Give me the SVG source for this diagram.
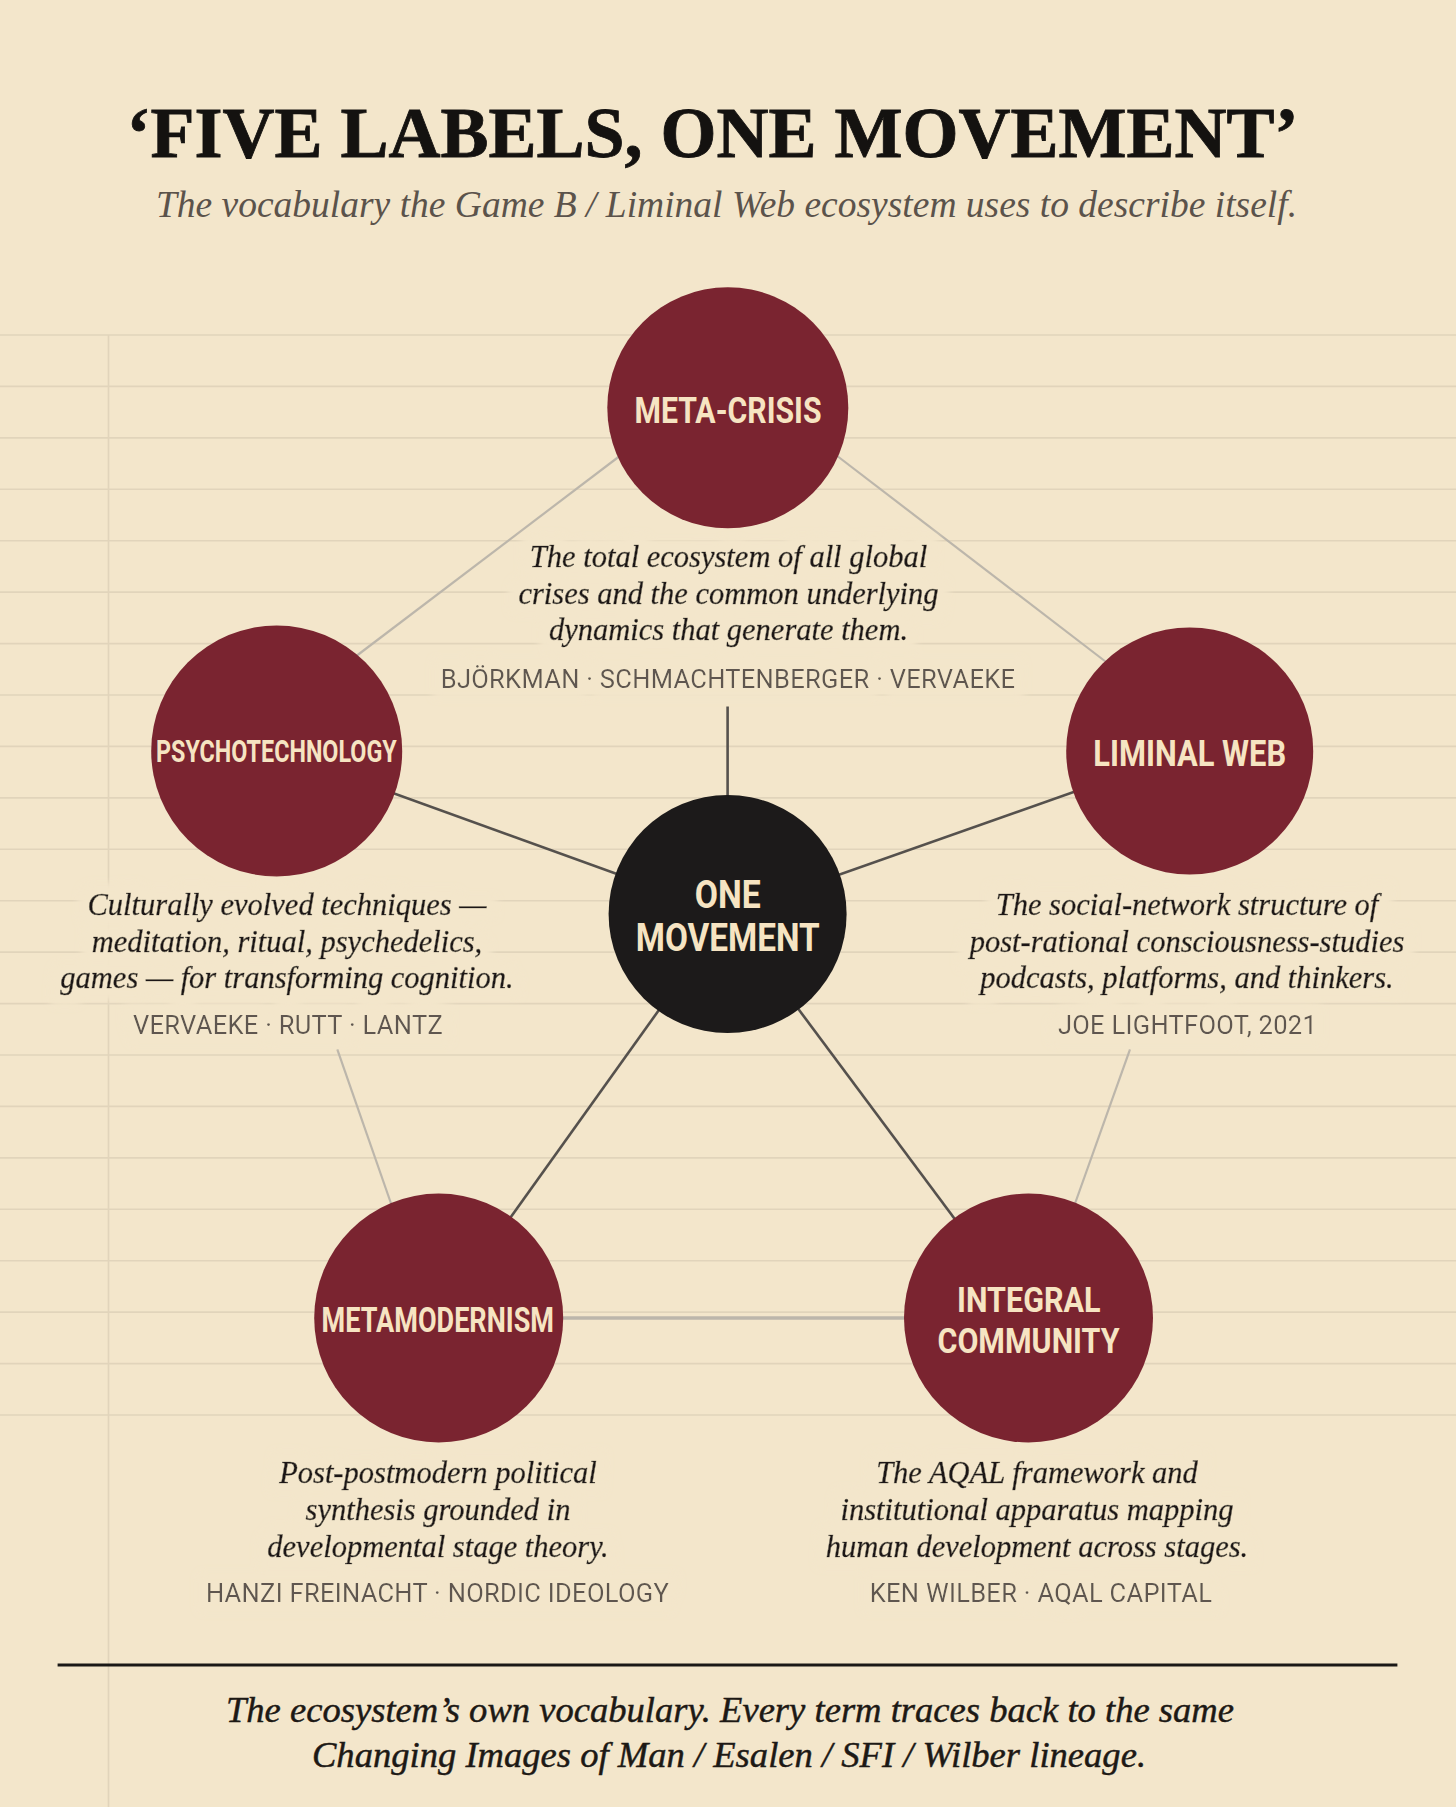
<svg xmlns="http://www.w3.org/2000/svg" width="1456" height="1807" viewBox="0 0 1456 1807">
<style>
.bg{fill:#f3e6cb}
.rule{stroke:#e1d4bb;stroke-width:1.6}
.dark{stroke:#55514d;stroke-width:2.6;fill:none}
.light{stroke:#bcb6ab;stroke-width:2.2;fill:none}
.node{fill:#7a2430}
.core{fill:#1c1a1a}
.lbl{font-family:Roboto,"Liberation Sans",sans-serif;font-weight:700;fill:#f6e4c2;text-anchor:middle}
.desc{font-family:"Liberation Serif",serif;font-style:italic;font-size:30.5px;fill:#1d1915;stroke:#1d1915;stroke-width:0.55px;text-anchor:middle}
.who{font-family:Roboto,"Liberation Sans",sans-serif;font-size:25.5px;fill:#5e5750;text-anchor:middle;letter-spacing:0.3px}
.title{font-family:"Liberation Serif",serif;font-weight:700;font-size:72px;fill:#141210;stroke:#141210;stroke-width:0.8px;text-anchor:middle}
.sub{font-family:"Liberation Serif",serif;font-style:italic;font-size:37.5px;fill:#5b534b;text-anchor:middle}
.foot{font-family:"Liberation Serif",serif;font-style:italic;font-size:36.6px;fill:#1d1915;stroke:#1d1915;stroke-width:0.45px;text-anchor:middle}
</style>
<defs>
<filter id="halo" x="-20%" y="-40%" width="140%" height="180%">
<feMorphology in="SourceAlpha" operator="dilate" radius="9" result="d"/>
<feGaussianBlur in="d" stdDeviation="4" result="b"/>
<feFlood flood-color="#f3e6cb"/>
<feComposite in2="b" operator="in" result="g"/>
<feMerge><feMergeNode in="g"/><feMergeNode in="g"/><feMergeNode in="SourceGraphic"/></feMerge>
</filter>
</defs>
<rect class="bg" x="0" y="0" width="1456" height="1807"/>
<g id="paper-lines">
<line class="rule" x1="0" x2="1456" y1="335" y2="335"/>
<line class="rule" x1="0" x2="1456" y1="386.4" y2="386.4"/>
<line class="rule" x1="0" x2="1456" y1="437.9" y2="437.9"/>
<line class="rule" x1="0" x2="1456" y1="489.3" y2="489.3"/>
<line class="rule" x1="0" x2="1456" y1="540.7" y2="540.7"/>
<line class="rule" x1="0" x2="1456" y1="592.1" y2="592.1"/>
<line class="rule" x1="0" x2="1456" y1="643.6" y2="643.6"/>
<line class="rule" x1="0" x2="1456" y1="695" y2="695"/>
<line class="rule" x1="0" x2="1456" y1="746.4" y2="746.4"/>
<line class="rule" x1="0" x2="1456" y1="797.9" y2="797.9"/>
<line class="rule" x1="0" x2="1456" y1="849.3" y2="849.3"/>
<line class="rule" x1="0" x2="1456" y1="900.7" y2="900.7"/>
<line class="rule" x1="0" x2="1456" y1="952.1" y2="952.1"/>
<line class="rule" x1="0" x2="1456" y1="1003.6" y2="1003.6"/>
<line class="rule" x1="0" x2="1456" y1="1055" y2="1055"/>
<line class="rule" x1="0" x2="1456" y1="1106.4" y2="1106.4"/>
<line class="rule" x1="0" x2="1456" y1="1157.9" y2="1157.9"/>
<line class="rule" x1="0" x2="1456" y1="1209.3" y2="1209.3"/>
<line class="rule" x1="0" x2="1456" y1="1260.7" y2="1260.7"/>
<line class="rule" x1="0" x2="1456" y1="1312.1" y2="1312.1"/>
<line class="rule" x1="0" x2="1456" y1="1363.6" y2="1363.6"/>
<line class="rule" x1="0" x2="1456" y1="1415" y2="1415"/>
<line class="rule" x1="108.5" x2="108.5" y1="335" y2="1807"/>
</g>
<g id="header">
<text class="title" x="712.5" y="157">‘FIVE LABELS, ONE MOVEMENT’</text>
<text class="sub" x="726.5" y="217">The vocabulary the Game B / Liminal Web ecosystem uses to describe itself.</text>
</g>
<g id="connectors">
<line class="light" x1="625" y1="452" x2="355" y2="657"/>
<line class="light" x1="832" y1="452" x2="1110" y2="665"/>
<line class="light" x1="337.3" y1="1049.3" x2="394" y2="1212"/>
<line class="light" x1="1130" y1="1049.3" x2="1072" y2="1212"/>
<line class="light" x1="540" y1="1318" x2="930" y2="1318" style="stroke-width:3.5"/>
<line class="dark" x1="727.6" y1="706.5" x2="727.6" y2="914"/>
<line class="dark" x1="727.6" y1="914" x2="276.7" y2="751"/>
<line class="dark" x1="727.6" y1="914" x2="1189.7" y2="751"/>
<line class="dark" x1="727.6" y1="914" x2="438.7" y2="1318"/>
<line class="dark" x1="727.6" y1="914" x2="1028.5" y2="1318"/>
</g>
<g id="node-meta-crisis">
<circle class="node" cx="727.8" cy="407.8" r="120.5"/>
<text class="lbl" x="728" y="422.7" font-size="37.5" textLength="187" lengthAdjust="spacingAndGlyphs">META-CRISIS</text>
<g filter="url(#halo)">
<text class="desc" x="728.5" y="567">The total ecosystem of all global</text>
<text class="desc" x="728.5" y="603.5">crises and the common underlying</text>
<text class="desc" x="728.5" y="640">dynamics that generate them.</text>
<text class="who" x="728" y="688">BJÖRKMAN · SCHMACHTENBERGER · VERVAEKE</text>
</g>
</g>
<g id="node-psychotechnology">
<circle class="node" cx="276.7" cy="751" r="125.5"/>
<text class="lbl" x="276.4" y="761.7" font-size="30.5" textLength="240.7" lengthAdjust="spacingAndGlyphs">PSYCHOTECHNOLOGY</text>
<g filter="url(#halo)">
<text class="desc" x="287" y="915">Culturally evolved techniques —</text>
<text class="desc" x="287" y="951.7">meditation, ritual, psychedelics,</text>
<text class="desc" x="287" y="988.3">games — for transforming cognition.</text>
<text class="who" x="288" y="1034">VERVAEKE · RUTT · LANTZ</text>
</g>
</g>
<g id="node-liminal-web">
<circle class="node" cx="1189.7" cy="751" r="123.5"/>
<text class="lbl" x="1189.7" y="765.7" font-size="37" textLength="192.7" lengthAdjust="spacingAndGlyphs">LIMINAL WEB</text>
<g filter="url(#halo)">
<text class="desc" x="1187" y="915">The social-network structure of</text>
<text class="desc" x="1187" y="951.7">post-rational consciousness-studies</text>
<text class="desc" x="1187" y="988.3">podcasts, platforms, and thinkers.</text>
<text class="who" x="1187.5" y="1034">JOE LIGHTFOOT, 2021</text>
</g>
</g>
<g id="node-one-movement">
<circle class="core" cx="727.6" cy="914" r="119"/>
<text class="lbl" x="727.7" y="908" font-size="38.5" textLength="66" lengthAdjust="spacingAndGlyphs">ONE</text>
<text class="lbl" x="727.7" y="951" font-size="38.5" textLength="184" lengthAdjust="spacingAndGlyphs">MOVEMENT</text>
</g>
<g id="node-metamodernism">
<circle class="node" cx="438.7" cy="1318" r="124.5"/>
<text class="lbl" x="437.8" y="1331.7" font-size="35" textLength="232.5" lengthAdjust="spacingAndGlyphs">METAMODERNISM</text>
<g filter="url(#halo)">
<text class="desc" x="438" y="1483.3">Post-postmodern political</text>
<text class="desc" x="438" y="1520">synthesis grounded in</text>
<text class="desc" x="438" y="1556.7">developmental stage theory.</text>
<text class="who" x="437.5" y="1601.7">HANZI FREINACHT · NORDIC IDEOLOGY</text>
</g>
</g>
<g id="node-integral-community">
<circle class="node" cx="1028.5" cy="1318" r="124.5"/>
<text class="lbl" x="1028.8" y="1312.3" font-size="34.5" textLength="143.5" lengthAdjust="spacingAndGlyphs">INTEGRAL</text>
<text class="lbl" x="1028.5" y="1353.3" font-size="34.5" textLength="182" lengthAdjust="spacingAndGlyphs">COMMUNITY</text>
<g filter="url(#halo)">
<text class="desc" x="1037" y="1483.3">The AQAL framework and</text>
<text class="desc" x="1037" y="1520">institutional apparatus mapping</text>
<text class="desc" x="1037" y="1556.7">human development across stages.</text>
<text class="who" x="1041" y="1601.7">KEN WILBER · AQAL CAPITAL</text>
</g>
</g>
<g id="footer">
<line x1="57.6" y1="1665" x2="1397.4" y2="1665" stroke="#1a1816" stroke-width="3"/>
<text class="foot" x="730" y="1721.7">The ecosystem’s own vocabulary. Every term traces back to the same</text>
<text class="foot" x="729" y="1766.7">Changing Images of Man / Esalen / SFI / Wilber lineage.</text>
</g>
</svg>
